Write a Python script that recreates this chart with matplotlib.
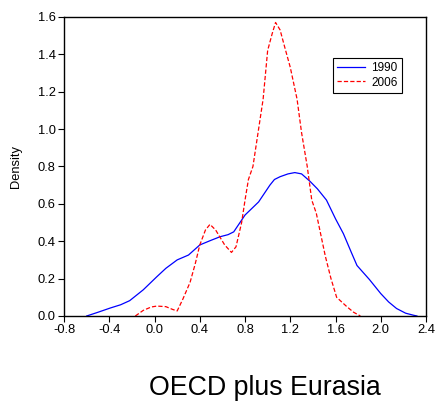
import numpy as np
import matplotlib.pyplot as plt

plt.rcParams['font.family'] = ['Liberation Sans', 'DejaVu Sans']

# 1990 density
x_1990 = [-0.60, -0.50, -0.39, -0.30, -0.22, -0.10, 0.02, 0.10, 0.20, 0.30, 0.40,
          0.50, 0.58, 0.65, 0.70, 0.80, 0.92, 0.97, 1.02, 1.06, 1.11, 1.18, 1.24,
          1.30, 1.375, 1.44, 1.52, 1.60, 1.67, 1.74, 1.79, 1.90, 2.00, 2.07, 2.14,
          2.22, 2.29, 2.32]
y_1990 = [0.0, 0.02, 0.043, 0.06, 0.082, 0.14, 0.21, 0.255, 0.30, 0.326, 0.38,
          0.405, 0.424, 0.435, 0.45, 0.54, 0.61, 0.655, 0.70, 0.73, 0.745, 0.76, 0.767,
          0.76, 0.72, 0.68, 0.62, 0.52, 0.44, 0.34, 0.27, 0.195, 0.12, 0.075, 0.04,
          0.015, 0.004, 0.0]

# 2006 density
x_2006 = [-0.17, -0.10, -0.03, 0.02, 0.10, 0.16, 0.20, 0.25, 0.314, 0.36, 0.40,
          0.45, 0.49, 0.54, 0.58, 0.62, 0.68, 0.72, 0.77, 0.80, 0.83, 0.87, 0.915,
          0.96, 1.00, 1.04, 1.07, 1.11, 1.15, 1.20, 1.26, 1.30, 1.35, 1.39, 1.43,
          1.51, 1.56, 1.61, 1.70, 1.76, 1.82]
y_2006 = [0.0, 0.03, 0.048, 0.053, 0.05, 0.035, 0.027, 0.09, 0.18, 0.28, 0.38,
          0.46, 0.49, 0.46, 0.42, 0.38, 0.34, 0.37, 0.50, 0.62, 0.73, 0.80, 0.98,
          1.16, 1.42, 1.51, 1.57, 1.53, 1.44, 1.33, 1.16, 0.98, 0.80, 0.62, 0.55,
          0.32, 0.20, 0.10, 0.05, 0.02, 0.0]

xticks = [-0.8, -0.4, 0.0, 0.4, 0.8, 1.2, 1.6, 2.0, 2.4]
yticks = [0.0, 0.2, 0.4, 0.6, 0.8, 1.0, 1.2, 1.4, 1.6]

fig = plt.figure(figsize=(4.36, 4.01), dpi=100)
ax = fig.add_axes([0.147, 0.212, 0.83, 0.746])

ax.plot(x_1990, y_1990, color='#0000ff', lw=0.9, label='1990')
ax.plot(x_2006, y_2006, color='#ff0000', lw=0.9, ls=(0, (3.4, 1.7)), label='2006')

ax.set_xlim(-0.8, 2.4)
ax.set_ylim(0, 1.6)
ax.set_xticks(xticks)
ax.set_yticks(yticks)
ax.set_xticklabels(['%.1f' % v for v in xticks])
ax.set_yticklabels(['%.1f' % v for v in yticks])
ax.tick_params(direction='out', length=4, width=0.8, labelsize=9.3, top=False, right=False, pad=2)
for s in ax.spines.values():
    s.set_linewidth(1.0)
ax.set_ylabel('Density', fontsize=9.3)
ax.yaxis.set_label_coords(-0.115, 0.5)

leg = ax.legend(loc='upper left', bbox_to_anchor=(0.743, 0.862), fontsize=8.5,
                fancybox=False, edgecolor='black', framealpha=1, handlelength=2.4,
                borderpad=0.35, labelspacing=0.2, handletextpad=0.5, borderaxespad=0)
leg.get_frame().set_linewidth(0.8)

fig.text(0.608, 0.015, 'OECD plus Eurasia', fontsize=19.3, ha='center', va='baseline')

plt.savefig('out.png', dpi=100)
